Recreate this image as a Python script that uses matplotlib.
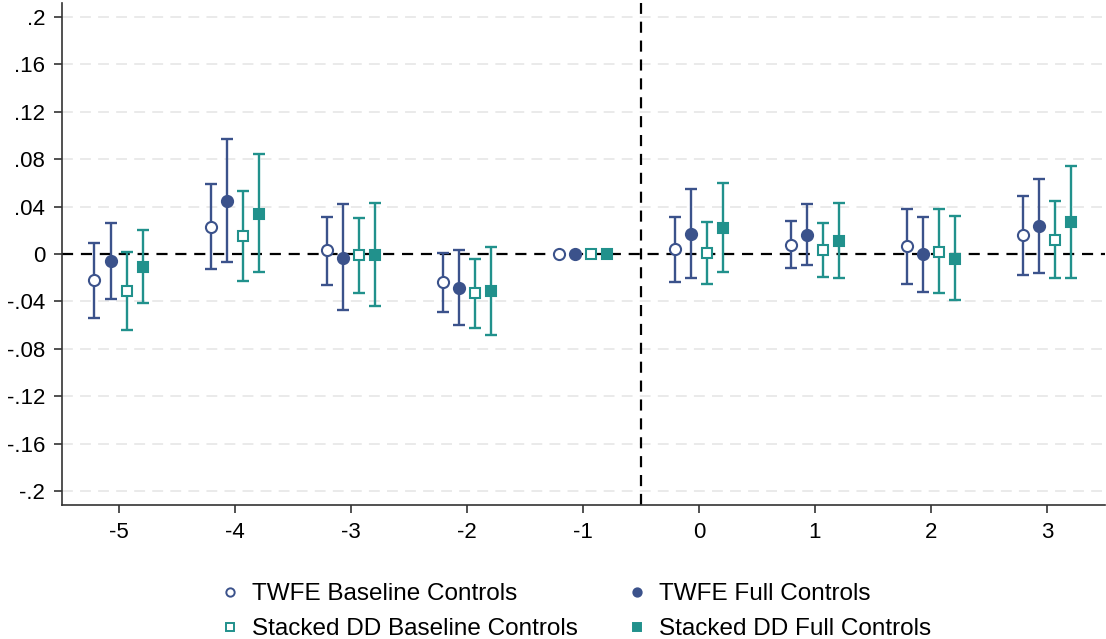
import numpy as np
import matplotlib
matplotlib.use("Agg")
import matplotlib.pyplot as plt
from matplotlib.lines import Line2D

plt.rcParams['font.family'] = ['Liberation Sans', 'DejaVu Sans']

periods = [-5, -4, -3, -2, -1, 0, 1, 2, 3]
ytick_vals = [-0.2, -0.16, -0.12, -0.08, -0.04, 0, 0.04, 0.08, 0.12, 0.16, 0.2]
ytick_labels = ['-.2', '-.16', '-.12', '-.08', '-.04', '0', '.04', '.08', '.12', '.16', '.2']

series_names = ["TWFE Baseline Controls", "TWFE Full Controls",
                "Stacked DD Baseline Controls", "Stacked DD Full Controls"]

twfe_base_est = [-0.022, 0.023, 0.003, -0.024, 0.0, 0.004, 0.008, 0.007, 0.016]
twfe_base_lo = [-0.054, -0.013, -0.026, -0.049, np.nan, -0.024, -0.012, -0.025, -0.018]
twfe_base_hi = [0.009, 0.059, 0.031, 0.001, np.nan, 0.031, 0.028, 0.038, 0.049]

twfe_full_est = [-0.006, 0.045, -0.003, -0.029, 0.0, 0.017, 0.016, 0.000, 0.024]
twfe_full_lo = [-0.038, -0.007, -0.047, -0.060, np.nan, -0.020, -0.009, -0.032, -0.016]
twfe_full_hi = [0.026, 0.097, 0.042, 0.003, np.nan, 0.055, 0.042, 0.031, 0.063]

stk_base_est = [-0.031, 0.015, -0.001, -0.033, 0.0, 0.001, 0.003, 0.002, 0.012]
stk_base_lo = [-0.064, -0.023, -0.033, -0.062, np.nan, -0.025, -0.019, -0.033, -0.020]
stk_base_hi = [0.002, 0.053, 0.030, -0.004, np.nan, 0.027, 0.026, 0.038, 0.045]

stk_full_est = [-0.011, 0.034, -0.001, -0.031, 0.0, 0.022, 0.011, -0.004, 0.027]
stk_full_lo = [-0.041, -0.015, -0.044, -0.068, np.nan, -0.015, -0.020, -0.039, -0.020]
stk_full_hi = [0.020, 0.084, 0.043, 0.006, np.nan, 0.060, 0.043, 0.032, 0.074]

navy = '#3B528B'
teal = '#21918C'

series = [
    (twfe_base_est, twfe_base_lo, twfe_base_hi, -0.21, navy, 'o', 'white'),
    (twfe_full_est, twfe_full_lo, twfe_full_hi, -0.07, navy, 'o', navy),
    (stk_base_est, stk_base_lo, stk_base_hi, 0.07, teal, 's', 'white'),
    (stk_full_est, stk_full_lo, stk_full_hi, 0.21, teal, 's', teal),
]

fig = plt.figure(figsize=(11.06, 6.39), dpi=100)
ax = fig.add_axes([62/1106, 1 - 505/639, (1105-62)/1106, (505-3)/639])

# grid
for v in ytick_vals:
    if v != 0:
        ax.axhline(v, color='#E8E8E8', lw=1.3, ls=(0, (6, 4)), zorder=0)
ax.axhline(0, color='black', lw=1.6, ls=(0, (5, 3.5)), zorder=1)
ax.axvline(-0.5, color='black', lw=1.6, ls=(0, (5, 3.5)), zorder=1)

x = np.array(periods, dtype=float)
for est, lo, hi, off, col, mk, fc in series:
    est = np.array(est); lo = np.array(lo); hi = np.array(hi)
    ok = np.isfinite(lo)
    xs = x + off
    ax.errorbar(xs[ok], est[ok], yerr=[est[ok] - lo[ok], hi[ok] - est[ok]],
                fmt='none', ecolor=col, elinewidth=1.7, capsize=4, capthick=1.7, zorder=2)
    ax.plot(xs, est, ls='none', marker=mk, markersize=8 if mk == 'o' else 7.5,
            markerfacecolor=fc, markeredgecolor=col, markeredgewidth=1.5, zorder=3)

ax.set_xlim(-5.49, 3.5)
ax.set_ylim(-0.2115, 0.2115)
ax.set_xticks(periods)
ax.set_xticklabels([str(p) for p in periods])
ax.set_yticks(ytick_vals)
ax.set_yticklabels(ytick_labels)
ax.tick_params(axis='both', labelsize=16, length=6, width=1.2, color='#333333', pad=6)
for s in ['top', 'right']:
    ax.spines[s].set_visible(False)
for s in ['left', 'bottom']:
    ax.spines[s].set_linewidth(1.2)
    ax.spines[s].set_color('#333333')

handles = [
    Line2D([], [], ls='none', marker='o', markersize=6, markerfacecolor='white', markeredgecolor=navy, markeredgewidth=1.4),
    Line2D([], [], ls='none', marker='s', markersize=6, markerfacecolor='white', markeredgecolor=teal, markeredgewidth=1.4),
    Line2D([], [], ls='none', marker='o', markersize=6, markerfacecolor=navy, markeredgecolor=navy, markeredgewidth=1.4),
    Line2D([], [], ls='none', marker='s', markersize=6, markerfacecolor=teal, markeredgecolor=teal, markeredgewidth=1.4),
]
labels = [series_names[0], series_names[2], series_names[1], series_names[3]]
fig.legend(handles, labels, ncol=2, frameon=False, fontsize=17.5,
           loc='upper left', bbox_to_anchor=(218/1106, 1 - 583/639),
           handletextpad=0.4, columnspacing=1.95, labelspacing=0.55, handlelength=1.0,
           borderaxespad=0, borderpad=0)

fig.savefig('out.png', dpi=100)
